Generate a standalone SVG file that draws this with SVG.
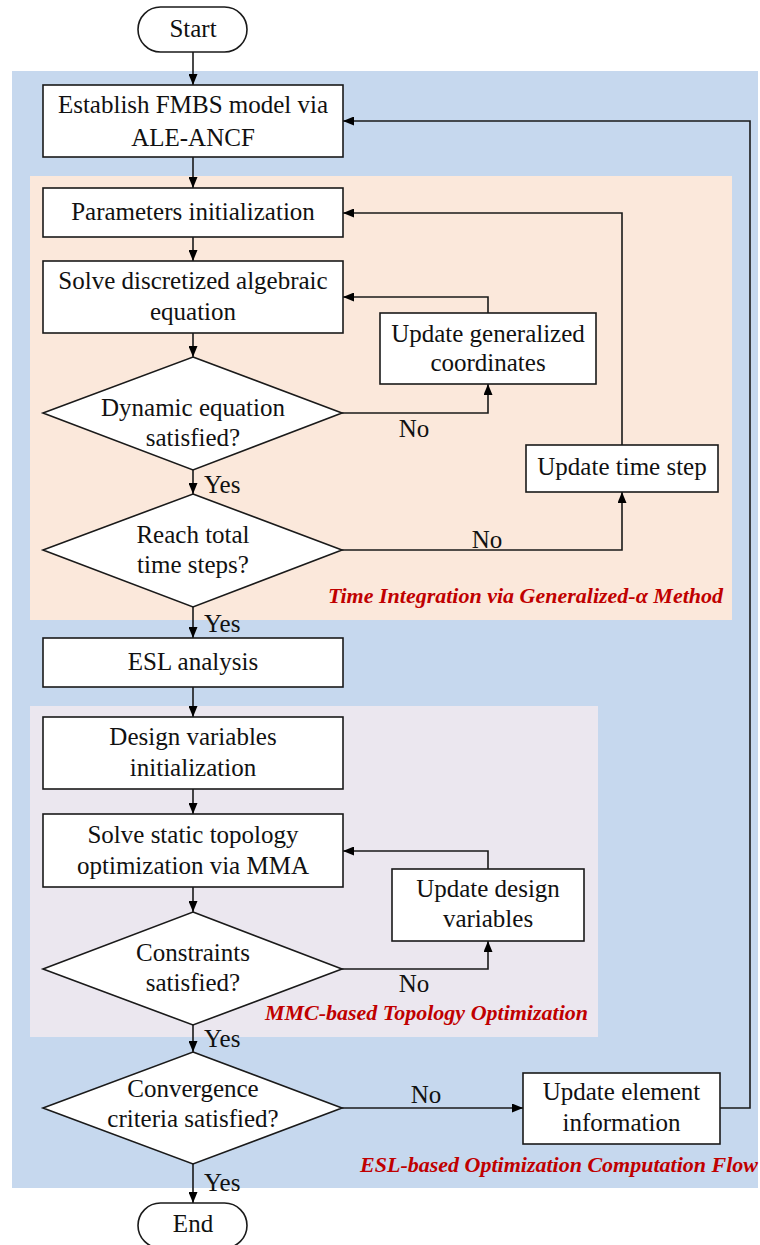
<svg xmlns="http://www.w3.org/2000/svg" width="760" height="1245" viewBox="0 0 760 1245">
<defs>
<marker id="ah" markerUnits="userSpaceOnUse" markerWidth="12" markerHeight="9" refX="11" refY="4.5" orient="auto">
<path d="M0,0 L11,4.5 L0,9 z" fill="#000"/>
</marker>
<style>
.box{fill:#fff;stroke:#1a1a1a;stroke-width:1.6}
.t{font-family:"Liberation Serif","Times New Roman",serif;font-size:25px;fill:#111;text-anchor:middle}
.lbl{font-family:"Liberation Serif","Times New Roman",serif;font-size:25px;fill:#111}
.cap{font-family:"Liberation Serif","Times New Roman",serif;font-size:22px;font-weight:bold;font-style:italic;fill:#C00000;text-anchor:end}
.c{fill:none;stroke:#1a1a1a;stroke-width:1.6;marker-end:url(#ah)}
</style>
</defs>
<g id="regions">
<rect x="12" y="71" width="746" height="1117" fill="#C6D8EE"/>
<rect x="30" y="176" width="702" height="444" fill="#FBE8DB"/>
<rect x="30" y="706" width="568" height="331" fill="#EBE7EF"/>
</g>
<g id="captions">
<text class="cap" x="723" y="603">Time Integration via Generalized-α Method</text>
<text class="cap" x="588" y="1020">MMC-based Topology Optimization</text>
<text class="cap" x="758" y="1172">ESL-based Optimization Computation Flow</text>
</g>
<g id="connectors">
<path class="c" d="M193,52 V85"/>
<path class="c" d="M193,157 V188"/>
<path class="c" d="M193,237 V261"/>
<path class="c" d="M193,333 V357"/>
<path class="c" d="M193,470 V494"/>
<path class="c" d="M193,607 V638"/>
<path class="c" d="M193,687 V717"/>
<path class="c" d="M193,789 V814"/>
<path class="c" d="M193,887 V912"/>
<path class="c" d="M193,1025 V1052"/>
<path class="c" d="M193,1164 V1203"/>
<path class="c" d="M342,413 H488 V384"/>
<path class="c" d="M488,313 V297 H343"/>
<path class="c" d="M342,550 H622 V492"/>
<path class="c" d="M622,445 V213 H343"/>
<path class="c" d="M342,969 H488 V941"/>
<path class="c" d="M488,869 V851 H343"/>
<path class="c" d="M342,1108 H523"/>
<path class="c" d="M720,1108 H750 V121 H343"/>
<text class="lbl" x="204" y="493">Yes</text>
<text class="lbl" x="204" y="632">Yes</text>
<text class="lbl" x="204" y="1047">Yes</text>
<text class="lbl" x="204" y="1191">Yes</text>
<text class="t" x="414" y="437">No</text>
<text class="t" x="487" y="548">No</text>
<text class="t" x="414" y="992">No</text>
<text class="t" x="426" y="1103">No</text>
</g>
<g id="start">
<rect class="box" x="138" y="7" width="109" height="45" rx="22.5"/>
<text class="t" x="193" y="37">Start</text>
</g>
<g id="establish">
<rect class="box" x="43" y="85" width="300" height="72"/>
<text class="t" x="193" y="113">Establish FMBS model via</text>
<text class="t" x="193" y="146">ALE-ANCF</text>
</g>
<g id="params">
<rect class="box" x="43" y="188" width="300" height="49"/>
<text class="t" x="193" y="220">Parameters initialization</text>
</g>
<g id="solve-dae">
<rect class="box" x="43" y="261" width="300" height="72"/>
<text class="t" x="193" y="289">Solve discretized algebraic</text>
<text class="t" x="193" y="320">equation</text>
</g>
<g id="update-coords">
<rect class="box" x="380" y="313" width="216" height="71"/>
<text class="t" x="488" y="342">Update generalized</text>
<text class="t" x="488" y="371">coordinates</text>
</g>
<g id="dyn-check">
<polygon class="box" points="193,357 342,413 193,470 43,413"/>
<text class="t" x="193" y="416">Dynamic equation</text>
<text class="t" x="193" y="446">satisfied?</text>
</g>
<g id="update-time">
<rect class="box" x="526" y="445" width="192" height="47"/>
<text class="t" x="622" y="475">Update time step</text>
</g>
<g id="time-check">
<polygon class="box" points="193,494 342,550 193,607 43,550"/>
<text class="t" x="193" y="543">Reach total</text>
<text class="t" x="193" y="573">time steps?</text>
</g>
<g id="esl">
<rect class="box" x="43" y="638" width="300" height="49"/>
<text class="t" x="193" y="670">ESL analysis</text>
</g>
<g id="design-init">
<rect class="box" x="43" y="717" width="300" height="72"/>
<text class="t" x="193" y="745">Design variables</text>
<text class="t" x="193" y="776">initialization</text>
</g>
<g id="solve-static">
<rect class="box" x="43" y="814" width="300" height="73"/>
<text class="t" x="193" y="843">Solve static topology</text>
<text class="t" x="193" y="874">optimization via MMA</text>
</g>
<g id="update-design">
<rect class="box" x="392" y="869" width="192" height="72"/>
<text class="t" x="488" y="897">Update design</text>
<text class="t" x="488" y="927">variables</text>
</g>
<g id="constraints">
<polygon class="box" points="193,912 342,969 193,1025 43,969"/>
<text class="t" x="193" y="961">Constraints</text>
<text class="t" x="193" y="991">satisfied?</text>
</g>
<g id="convergence">
<polygon class="box" points="193,1052 342,1108 193,1164 43,1108"/>
<text class="t" x="193" y="1097">Convergence</text>
<text class="t" x="193" y="1127">criteria satisfied?</text>
</g>
<g id="update-element">
<rect class="box" x="523" y="1073" width="197" height="71"/>
<text class="t" x="621.5" y="1100">Update element</text>
<text class="t" x="621.5" y="1131">information</text>
</g>
<g id="end">
<rect class="box" x="138" y="1203" width="109" height="45" rx="22.5"/>
<text class="t" x="193" y="1232">End</text>
</g>
</svg>
